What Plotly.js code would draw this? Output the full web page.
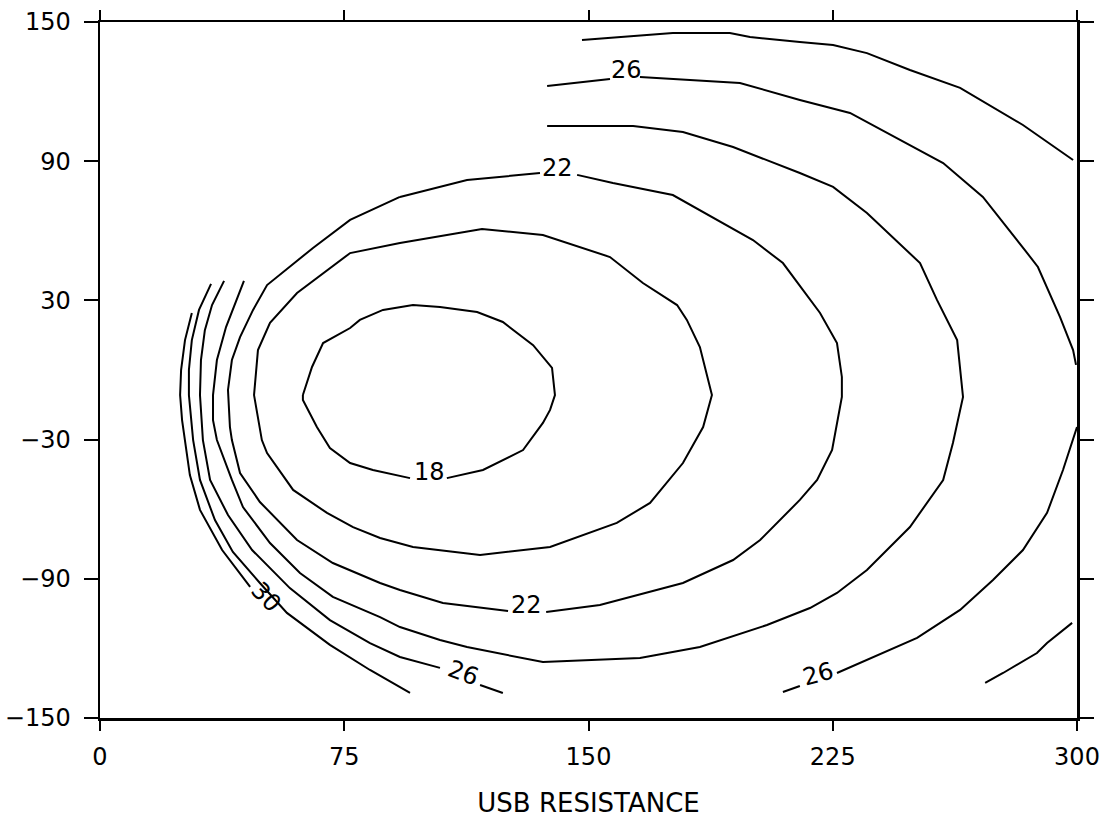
<!DOCTYPE html>
<html>
<head>
<meta charset="utf-8">
<script src="https://cdn.plot.ly/plotly-3.0.1.min.js"></script>
<style>html,body{margin:0;padding:0;background:#fff;}</style>
</head>
<body>
<div id="chart" style="width:1107px;height:818px;"></div>
<script>
// Axis ticks
const xTicks = [0, 75, 150, 225, 300];
const yTicks = [-150, -90, -30, 30, 90, 150];
const xTitle = 'USB RESISTANCE';

// Contour level 18 (closed)
const c18x = [62.3,65.1,68.5,76.8,79.8,86.9,96.1,104.4,115.8,123.7,133.0,138.8,139.7,138.2,136.0,129.9,117.6,106.5,null,95.2,83.8,76.8,70.6,66.6,62.3,62.3];
const c18y = [-10.8,1.3,11.6,18.1,21.6,25.9,28.0,27.2,25.0,20.7,10.7,0.9,-10.8,-17.2,-22.8,-34.5,-43.1,-46.6,null,-46.6,-43.1,-40.1,-33.6,-24.6,-12.9,-10.8];

// Contour level 20 (closed)
const c20x = [92.1,117.3,136.0,156.6,166.7,177.2,180.2,184.2,187.9,185.2,179.0,168.9,158.7,138.2,116.7,96.1,86.0,77.7,69.7,59.3,51.3,49.7,47.3,48.5,52.2,60.5,76.8,92.1];
const c20y = [54.7,60.8,58.2,48.7,37.5,28.0,21.6,9.9,-10.8,-24.6,-40.1,-57.3,-65.9,-76.3,-79.7,-76.3,-72.4,-67.7,-61.6,-51.7,-35.8,-30.2,-10.8,8.6,20.3,33.2,50.4,54.7];

// Contour level 22 (closed)
const c22x = [92.1,112.7,135.1,null,146.5,157.5,175.9,200.5,209.7,218.0,221.1,226.3,227.8,227.8,224.8,220.2,214.9,202.7,194.4,179.0,153.5,137.0,null,125.3,105.3,92.1,86.0,71.5,60.5,49.1,43.0,40.5,39.9,39.3,40.5,43.0,47.0,51.3,56.2,65.4,76.8,92.1];
const c22y = [74.6,81.9,84.9,null,84.1,80.6,75.4,56.0,46.1,30.2,24.6,11.6,-3.0,-11.6,-34.5,-47.4,-56.0,-73.3,-81.9,-91.8,-101.3,-104.3,null,-103.9,-100.4,-94.8,-91.8,-83.2,-73.3,-56.9,-44.4,-30.2,-24.6,-8.6,4.3,14.2,25.9,36.6,42.2,52.6,64.7,74.6];

// Contour level 24
const c24x = [137.3,163.7,179.0,194.4,214.9,225.1,235.5,247.8,251.8,257.0,263.2,265.0,261.9,258.9,248.7,235.5,226.3,218.0,204.8,184.2,165.8,136.0,112.7,104.4,92.1,86.0,71.5,61.4,52.2,43.9,40.5,35.9,34.7,34.7,35.9,38.7,41.8,44.2];
const c24y = [105.2,105.2,102.6,96.1,84.9,78.9,67.7,51.7,46.1,30.2,12.9,-11.6,-31.5,-47.4,-67.7,-86.2,-96.1,-102.6,-109.9,-119.4,-124.1,-125.9,-119.4,-116.4,-110.8,-106.5,-97.8,-87.5,-74.6,-59.1,-47.4,-30.2,-21.6,-10.8,4.3,18.5,30.2,38.4];

// Contour level 26 (three pieces)
const c26ax = [38.1,34.4,32.2,31.0,30.7,31.6,33.8,39.3,46.7,58.3,70.6,82.9,92.1,104.4,null,116.7,123.7];
const c26ay = [38.4,28.0,17.2,4.3,-10.8,-30.2,-47.4,-62.5,-77.6,-94.0,-107.8,-117.7,-123.7,-128.4,null,-135.8,-139.2];
const c26bx = [137.3,156.6,null,165.8,196.5,214.9,230.3,258.9,271.1,284.0,288.0,294.8,298.8,299.7];
const c26by = [122.4,125.4,null,126.3,123.7,116.4,110.8,89.2,74.6,51.7,44.4,22.8,8.6,2.2];
const c26cx = [300,295.7,290.8,283.4,274.2,264.1,250.9,235.5,226.3,null,214.9,209.7];
const c26cy = [-24.6,-43.1,-61.6,-77.6,-90.5,-103.4,-115.5,-125.0,-130.6,null,-136.2,-138.8];

// Contour level 28 (three pieces)
const c28ax = [148.0,175.9,193.4,199.6,214.9,225.1,235.5,248.7,264.1,283.4,298.8];
const c28ay = [142.2,145.3,145.3,143.5,141.4,140.1,136.6,129.3,121.6,105.6,90.5];
const c28bx = [271.8,277.3,287.7,290.8,298.5];
const c28by = [-134.9,-130.6,-122.0,-117.7,-109.0];
const c28cx = [34.1,30.4,28.2,27.3,27.3,28.6,30.7,35.3,40.8,49.1,57.4,70.6,82.9,95.2];
const c28cy = [37.1,25.9,12.9,0.0,-10.8,-30.2,-47.4,-64.7,-78.4,-91.8,-104.7,-118.5,-129.3,-139.2];

// Contour level 30
const c30x = [28.2,26.1,24.9,24.6,25.2,26.1,27.6,30.7,37.5,46.1];
const c30y = [24.6,12.9,0.0,-10.8,-21.6,-30.2,-45.3,-60.3,-77.6,-93.5];

// Contour labels
const labelText = ['18', '22', '22', '26', '26', '26', '30'];
const labelX = [101.3, 140.6, 131.1, 161.8, 111.5, 220.5, 51.0];
const labelY = [-43.9, 87.1, -101.3, 129.3, -130.6, -131.1, -97.8];
const labelAngle = [0, 0, 0, 0, 20, -15, 47];

const lineStyle = {color: 'black', width: 2};
const pieces = [
  [c18x, c18y], [c20x, c20y], [c22x, c22y], [c24x, c24y],
  [c26ax, c26ay], [c26bx, c26by], [c26cx, c26cy],
  [c28ax, c28ay], [c28bx, c28by], [c28cx, c28cy],
  [c30x, c30y]
];
const traces = pieces.map(p => ({
  type: 'scatter', mode: 'lines', x: p[0], y: p[1],
  line: lineStyle, connectgaps: false, hoverinfo: 'skip'
}));

const annotations = labelText.map((t, i) => ({
  x: labelX[i], y: labelY[i], xref: 'x', yref: 'y',
  text: t, showarrow: false, textangle: labelAngle[i],
  font: {family: 'DejaVu Sans', size: 24, color: 'black'}
}));

const axisCommon = {
  ticks: 'outside', tickwidth: 2, tickcolor: 'black',
  showline: true, linewidth: 2.5, linecolor: 'black', mirror: 'ticks',
  showgrid: false, zeroline: false,
  tickfont: {family: 'DejaVu Sans', size: 24, color: 'black'}
};

const layout = {
  width: 1107, height: 818,
  margin: {l: 100, r: 30, t: 22, b: 100},
  paper_bgcolor: 'white', plot_bgcolor: 'white',
  showlegend: false, hovermode: false,
  font: {family: 'DejaVu Sans', size: 24, color: 'black'},
  xaxis: Object.assign({}, axisCommon, {
    range: [0, 300], tickvals: xTicks, ticklen: 10, ticklabelstandoff: 6,
    title: {text: xTitle, standoff: 24, font: {family: 'DejaVu Sans', size: 26, color: 'black'}}
  }),
  yaxis: Object.assign({}, axisCommon, {
    range: [-150, 150], tickvals: yTicks, ticklen: 14, ticklabelstandoff: 8
  }),
  annotations: annotations
};

Plotly.newPlot('chart', traces, layout, {displayModeBar: false, staticPlot: true});
</script>
</body>
</html>
